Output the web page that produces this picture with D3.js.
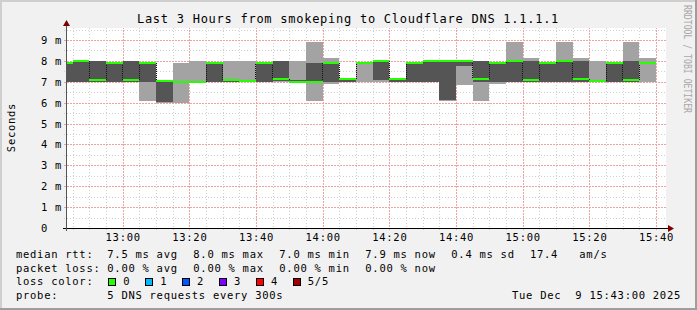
<!DOCTYPE html>
<html>
<head>
<meta charset="utf-8">
<script src="https://cdn.jsdelivr.net/npm/d3@7"></script>
<style>
  body { margin: 0; background: #f1f1f1; }
  svg text { font-family: 'DejaVu Sans Mono', monospace; fill: #000; }
  .crisp { shape-rendering: crispEdges; }
</style>
</head>
<body>
<div class="container"></div>
<script>
let width = 697
let height = 310

// rrd steps (end of each 5 minute period) and the five sorted pings, in ms
const times = ['12:45', '12:50', '12:55', '13:00', '13:05', '13:10', '13:15', '13:20', '13:25', '13:30',
    '13:35', '13:40', '13:45', '13:50', '13:55', '14:00', '14:05', '14:10', '14:15', '14:20',
    '14:25', '14:30', '14:35', '14:40', '14:45', '14:50', '14:55', '15:00', '15:05', '15:10',
    '15:15', '15:20', '15:25', '15:30', '15:35', '15:40']
const pingMin = [7.0, 7.0, 7.0, 7.0, 7.0, 6.1, 6.0, 5.97, 6.93, 7.0,
    6.98, 6.98, 7.0, 7.0, 6.98, 6.1, 6.91, 7.0, 6.98, 6.98,
    7.0, 7.0, 7.0, 6.1, 6.84, 6.1, 6.88, 7.0, 7.0, 7.0,
    7.0, 7.0, 6.98, 7.0, 7.0, 7.0]
const ping2 = [7.0, 7.0, 7.0, 7.0, 7.0, 7.0, 6.02, 6.97, 6.97, 7.0,
    7.0, 6.99, 7.0, 7.05, 6.99, 7.0, 7.0, 7.0, 7.87, 7.1,
    7.0, 7.0, 7.0, 6.12, 7.75, 7.0, 7.0, 7.0, 7.0, 7.0,
    7.0, 7.0, 7.0, 7.0, 7.0, 7.88]
const median = [7.9, 8.0, 7.1, 7.9, 7.1, 7.9, 7.05, 7.0, 7.0, 7.9,
    7.1, 7.02, 7.9, 7.12, 7.0, 7.0, 7.9, 7.12, 7.9, 8.0,
    7.12, 7.9, 8.0, 8.0, 8.0, 7.12, 7.9, 8.0, 7.1, 7.9,
    8.0, 7.12, 7.02, 7.88, 7.1, 7.92]
const ping4 = [7.9, 8.0, 8.0, 7.9, 8.0, 7.9, 7.05, 7.03, 7.03, 7.9,
    7.12, 7.04, 7.9, 8.0, 7.1, 7.88, 7.9, 7.12, 7.9, 8.0,
    7.12, 7.9, 8.0, 8.0, 8.0, 8.0, 7.9, 8.0, 8.0, 7.9,
    8.0, 8.0, 7.1, 7.9, 8.0, 7.95]
const pingMax = [7.9, 8.0, 8.0, 7.9, 8.0, 7.9, 7.05, 7.88, 7.98, 7.9,
    7.98, 7.98, 7.9, 8.0, 8.0, 8.92, 8.12, 7.12, 7.9, 8.0,
    7.12, 7.9, 8.0, 8.0, 8.0, 8.0, 7.9, 8.92, 8.12, 7.9,
    8.92, 8.12, 8.0, 7.95, 8.9, 8.12]

const yTicks = [0, 1, 2, 3, 4, 5, 6, 7, 8, 9]
const yTickLabels = ['0', '1 m', '2 m', '3 m', '4 m', '5 m', '6 m', '7 m', '8 m', '9 m']
const xTickLabels = ['13:00', '13:20', '13:40', '14:00', '14:20', '14:40', '15:00', '15:20', '15:40']

const rttStats = ['7.5 ms avg', '8.0 ms max', '7.0 ms min', '7.9 ms now', '0.4 ms sd']
const lossStats = ['0.00 % avg', '0.00 % max', '0.00 % min', '0.00 % now']
const lossColors = ['#26ff00', '#00b8ff', '#0059ff', '#7e00ff', '#ff0000', '#a10000']
const lossLabels = ['0', '1', '2', '3', '4', '5/5']

const parseTime = d3.timeParse('%H:%M')
const start = parseTime('12:43')
const end = parseTime('15:43')

let svg = d3.select('.container')
    .append('svg')
    .attr('width', width)
    .attr('height', height)

// background and 3d frame
svg.append('rect').attr('width', width).attr('height', height).attr('fill', '#f1f1f1')
svg.append('path').attr('class', 'crisp')
    .attr('d', `M0,0H${width}V2H2V${height}H0Z`).attr('fill', '#cfcfcf')
svg.append('path').attr('class', 'crisp')
    .attr('d', `M${width},${height}H0V${height - 2}H${width - 2}V0H${width}Z`).attr('fill', '#9e9e9e')

let x = d3.scaleTime().domain([start, end]).range([66, 666])
let y = d3.scaleLinear().domain([0, 9.574]).range([228, 28])
const px = v => Math.round(v) + 0.5

svg.append('rect').attr('class', 'crisp')
    .attr('x', x(start)).attr('y', y(9.574))
    .attr('width', x(end) - x(start)).attr('height', y(0) - y(9.574))
    .attr('fill', '#ffffff')

// grid
let grid = svg.append('g').attr('class', 'crisp')
let minorX = d3.timeMinute.every(5).range(start, end).filter(d => d.getMinutes() % 20 !== 0)
let majorX = d3.timeMinute.every(20).range(start, end)
let minorY = d3.range(0.5, 9.6, 1)

grid.selectAll('.minor-x').data(minorX).enter().append('line')
    .attr('x1', d => px(x(d))).attr('x2', d => px(x(d)))
    .attr('y1', y(0) + 2).attr('y2', y(9.574))
    .attr('stroke', '#cfcfcf').attr('stroke-dasharray', '1,2')
grid.selectAll('.minor-y').data(minorY).enter().append('line')
    .attr('y1', d => px(y(d))).attr('y2', d => px(y(d)))
    .attr('x1', x(start) - 2).attr('x2', x(end))
    .attr('stroke', '#cfcfcf').attr('stroke-dasharray', '1,2')
grid.selectAll('.major-x').data(majorX).enter().append('line')
    .attr('x1', d => px(x(d))).attr('x2', d => px(x(d)))
    .attr('y1', y(0) + 2).attr('y2', y(9.574))
    .attr('stroke', '#eba3a3').attr('stroke-dasharray', '2,1')
grid.selectAll('.major-y').data(yTicks.slice(1)).enter().append('line')
    .attr('y1', d => px(y(d))).attr('y2', d => px(y(d)))
    .attr('x1', x(start) - 2).attr('x2', x(end))
    .attr('stroke', '#eba3a3').attr('stroke-dasharray', '2,1')

// smoke
let bars = times.map((t, i) => {
    let e = parseTime(t)
    let s = d3.timeMinute.offset(e, -5)
    return {
        x0: s < start ? start : s, x1: e,
        min: pingMin[i], p2: ping2[i], med: median[i], p4: ping4[i], max: pingMax[i]
    }
})

let smoke = svg.append('g').attr('class', 'crisp')
smoke.selectAll('.light').data(bars).enter().append('rect')
    .attr('x', d => x(d.x0)).attr('width', d => x(d.x1) - x(d.x0))
    .attr('y', d => y(d.max)).attr('height', d => y(d.min) - y(d.max))
    .attr('fill', '#a3a3a3')
smoke.selectAll('.dark').data(bars).enter().append('rect')
    .attr('x', d => x(d.x0)).attr('width', d => x(d.x1) - x(d.x0))
    .attr('y', d => y(d.p4)).attr('height', d => y(d.p2) - y(d.p4))
    .attr('fill', '#555555')

// step edges between medians
smoke.selectAll('.edge').data(bars.slice(1)).enter().append('line')
    .attr('x1', d => px(x(d.x0) - 0.5)).attr('x2', d => px(x(d.x0) - 0.5))
    .attr('y1', (d, i) => y(bars[i].med)).attr('y2', d => y(d.med))
    .attr('stroke', '#111').attr('stroke-dasharray', '1,1')

// median band, coloured by loss (all 0 here)
smoke.selectAll('.median').data(bars).enter().append('rect')
    .attr('x', d => x(d.x0)).attr('width', d => x(d.x1) - x(d.x0))
    .attr('y', d => y(d.med) - 1).attr('height', 2)
    .attr('fill', lossColors[0])

// axes
let axis = svg.append('g').attr('class', 'crisp')
axis.append('line')
    .attr('x1', x(start) - 3).attr('x2', x(end) + 2)
    .attr('y1', px(y(0))).attr('y2', px(y(0)))
    .attr('stroke', '#000')
axis.append('line')
    .attr('x1', px(x(start))).attr('x2', px(x(start)))
    .attr('y1', y(0) + 3).attr('y2', y(9.574) - 2)
    .attr('stroke', '#555')
svg.append('path')
    .attr('d', `M${x(end) + 2},${y(0) - 3}L${x(end) + 8},${y(0) + 0.5}L${x(end) + 2},${y(0) + 4}Z`)
    .attr('fill', '#7f0000')
svg.append('path')
    .attr('d', `M${x(start) - 3},${y(9.574) - 2}L${x(start) + 0.5},${y(9.574) - 8}L${x(start) + 4},${y(9.574) - 2}Z`)
    .attr('fill', '#7f0000')

let font = g => g.style('font-size', '10.5px').style('letter-spacing', '0.72px')

svg.append('g').call(font)
    .selectAll('text').data(yTicks).enter().append('text')
    .attr('x', 41).attr('y', d => y(d) + 4)
    .text((d, i) => yTickLabels[i])

svg.append('g').call(font)
    .selectAll('text').data(majorX.filter(d => d > start)).enter().append('text')
    .attr('x', d => x(d) + 0.5).attr('y', 241)
    .attr('text-anchor', 'middle')
    .text((d, i) => xTickLabels[i])

// title and side labels
svg.append('text')
    .attr('x', 348).attr('y', 23)
    .attr('text-anchor', 'middle')
    .style('font-size', '12px').style('letter-spacing', '0.74px')
    .text('Last 3 Hours from smokeping to Cloudflare DNS 1.1.1.1')

svg.append('text').call(font)
    .attr('transform', 'translate(14.5,127.5) rotate(-90)')
    .attr('text-anchor', 'middle')
    .text('Seconds')

svg.append('text')
    .attr('transform', 'translate(684,5) rotate(90)')
    .style('font-size', '10px').style('fill', '#a8a8a8')
    .attr('textLength', 108).attr('lengthAdjust', 'spacingAndGlyphs')
    .text('RRDTOOL / TOBI OETIKER')

// legend
let legend = svg.append('g').call(font)
const colX = 107.3
const colStep = 86

legend.append('text').attr('x', 16).attr('y', 258).text('median rtt:')
legend.selectAll('.rtt').data(rttStats).enter().append('text')
    .attr('x', (d, i) => colX + i * colStep).attr('y', 258).text(d => d)
legend.append('text').attr('x', 530).attr('y', 258).text('17.4')
legend.append('text').attr('x', 579.3).attr('y', 258).text('am/s')

legend.append('text').attr('x', 16).attr('y', 271.7).text('packet loss:')
legend.selectAll('.loss').data(lossStats).enter().append('text')
    .attr('x', (d, i) => colX + i * colStep).attr('y', 271.7).text(d => d)

legend.append('text').attr('x', 16).attr('y', 285.3).text('loss color:')
let swatch = legend.selectAll('.swatch').data(lossColors).enter().append('g')
    .attr('transform', (d, i) => `translate(${108 + i * 36.9},0)`)
swatch.append('rect').attr('class', 'crisp')
    .attr('x', 0.5).attr('y', 278.5).attr('width', 7).attr('height', 7)
    .attr('fill', d => d).attr('stroke', '#000')
swatch.append('text').attr('x', 15.3).attr('y', 285.3).text((d, i) => lossLabels[i])

legend.append('text').attr('x', 16).attr('y', 299).text('probe:')
legend.append('text').attr('x', colX).attr('y', 299).text('5 DNS requests every 300s')
legend.append('text').attr('x', 681).attr('y', 299).attr('text-anchor', 'end')
    .text('Tue Dec  9 15:43:00 2025')
    .style('white-space', 'pre')
</script>
</body>
</html>
